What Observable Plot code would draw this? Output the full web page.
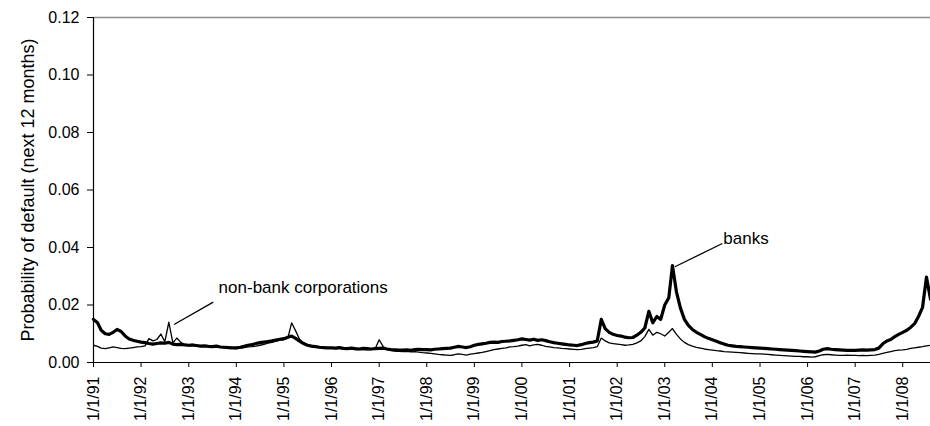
<!DOCTYPE html>
<html>
<head>
<meta charset="utf-8">
<script src="https://cdn.jsdelivr.net/npm/d3@7"></script>
<script src="https://cdn.jsdelivr.net/npm/@observablehq/plot@0.6"></script>
<style>
  body { margin: 0; background: #fff; }
  #chart svg { display: block; font-family: "Liberation Sans", Arial, sans-serif; }
  #chart g[aria-label="y-axis label"] text { font-size: 18px; }
</style>
</head>
<body>
<div id="chart"></div>
<script>
// monthly readings, Jan 1991 .. Aug 2008
const banks = [
  0.0150, 0.0138, 0.0112, 0.0100, 0.0098, 0.0105, 0.0115, 0.0108, 0.0092, 0.0082, 0.0077, 0.0074, // 1991
  0.0071, 0.0069, 0.0066, 0.0064, 0.0066, 0.0068, 0.0067, 0.0070, 0.0064, 0.0062, 0.0063, 0.0061, // 1992
  0.0060, 0.0061, 0.0059, 0.0057, 0.0058, 0.0056, 0.0055, 0.0057, 0.0054, 0.0053, 0.0052, 0.0051, // 1993
  0.0051, 0.0053, 0.0056, 0.0060, 0.0062, 0.0066, 0.0069, 0.0071, 0.0073, 0.0075, 0.0078, 0.0081, // 1994
  0.0083, 0.0088, 0.0092, 0.0084, 0.0074, 0.0066, 0.0060, 0.0057, 0.0055, 0.0053, 0.0052, 0.0051, // 1995
  0.0051, 0.0050, 0.0052, 0.0049, 0.0048, 0.0050, 0.0048, 0.0047, 0.0049, 0.0048, 0.0047, 0.0048, // 1996
  0.0049, 0.0050, 0.0047, 0.0045, 0.0044, 0.0043, 0.0043, 0.0044, 0.0042, 0.0045, 0.0046, 0.0045, // 1997
  0.0045, 0.0044, 0.0046, 0.0047, 0.0048, 0.0049, 0.0050, 0.0053, 0.0056, 0.0054, 0.0052, 0.0055, // 1998
  0.0060, 0.0063, 0.0065, 0.0067, 0.0070, 0.0071, 0.0070, 0.0073, 0.0074, 0.0075, 0.0077, 0.0079, // 1999
  0.0082, 0.0080, 0.0078, 0.0081, 0.0077, 0.0079, 0.0076, 0.0072, 0.0069, 0.0067, 0.0065, 0.0063, // 2000
  0.0061, 0.0060, 0.0059, 0.0062, 0.0066, 0.0069, 0.0071, 0.0075, 0.0150, 0.0118, 0.0105, 0.0098, // 2001
  0.0094, 0.0092, 0.0088, 0.0086, 0.0087, 0.0095, 0.0105, 0.0120, 0.0178, 0.0138, 0.0160, 0.0150, // 2002
  0.0200, 0.0225, 0.0337, 0.0245, 0.0190, 0.0150, 0.0129, 0.0115, 0.0105, 0.0098, 0.0090, 0.0084, // 2003
  0.0079, 0.0074, 0.0069, 0.0064, 0.0060, 0.0058, 0.0056, 0.0055, 0.0054, 0.0053, 0.0052, 0.0051, // 2004
  0.0050, 0.0049, 0.0048, 0.0047, 0.0046, 0.0045, 0.0044, 0.0043, 0.0042, 0.0041, 0.0040, 0.0039, // 2005
  0.0038, 0.0037, 0.0036, 0.0040, 0.0046, 0.0048, 0.0046, 0.0045, 0.0044, 0.0043, 0.0042, 0.0042, // 2006
  0.0042, 0.0043, 0.0044, 0.0043, 0.0044, 0.0045, 0.0050, 0.0065, 0.0075, 0.0080, 0.0090, 0.0098, // 2007
  0.0105, 0.0112, 0.0122, 0.0135, 0.0160, 0.0192, 0.0297, 0.0220                                  // 2008
];
const nonBank = [
  0.0060, 0.0056, 0.0050, 0.0048, 0.0051, 0.0054, 0.0052, 0.0049, 0.0048, 0.0050, 0.0052, 0.0054, // 1991
  0.0055, 0.0058, 0.0083, 0.0075, 0.0080, 0.0099, 0.0072, 0.0140, 0.0068, 0.0085, 0.0070, 0.0062, // 1992
  0.0058, 0.0060, 0.0057, 0.0059, 0.0056, 0.0055, 0.0057, 0.0054, 0.0053, 0.0051, 0.0050, 0.0049, // 1993
  0.0048, 0.0050, 0.0052, 0.0054, 0.0055, 0.0057, 0.0060, 0.0063, 0.0067, 0.0070, 0.0074, 0.0078, // 1994
  0.0079, 0.0086, 0.0138, 0.0110, 0.0081, 0.0068, 0.0060, 0.0056, 0.0054, 0.0052, 0.0051, 0.0050, // 1995
  0.0050, 0.0048, 0.0049, 0.0047, 0.0046, 0.0047, 0.0045, 0.0046, 0.0045, 0.0044, 0.0045, 0.0048, // 1996
  0.0079, 0.0055, 0.0046, 0.0042, 0.0040, 0.0039, 0.0038, 0.0039, 0.0037, 0.0038, 0.0036, 0.0034, // 1997
  0.0033, 0.0032, 0.0030, 0.0028, 0.0027, 0.0026, 0.0025, 0.0027, 0.0030, 0.0028, 0.0026, 0.0029, // 1998
  0.0031, 0.0033, 0.0035, 0.0038, 0.0041, 0.0045, 0.0047, 0.0049, 0.0051, 0.0054, 0.0055, 0.0057, // 1999
  0.0060, 0.0062, 0.0058, 0.0061, 0.0063, 0.0060, 0.0056, 0.0054, 0.0052, 0.0051, 0.0049, 0.0048, // 2000
  0.0047, 0.0046, 0.0045, 0.0046, 0.0048, 0.0050, 0.0052, 0.0055, 0.0085, 0.0075, 0.0068, 0.0066, // 2001
  0.0064, 0.0062, 0.0060, 0.0061, 0.0063, 0.0068, 0.0075, 0.0090, 0.0115, 0.0095, 0.0105, 0.0100, // 2002
  0.0092, 0.0105, 0.0118, 0.0098, 0.0082, 0.0070, 0.0062, 0.0057, 0.0053, 0.0050, 0.0047, 0.0045, // 2003
  0.0043, 0.0041, 0.0040, 0.0038, 0.0037, 0.0036, 0.0035, 0.0034, 0.0033, 0.0032, 0.0031, 0.0030, // 2004
  0.0030, 0.0029, 0.0028, 0.0027, 0.0026, 0.0025, 0.0024, 0.0023, 0.0022, 0.0021, 0.0021, 0.0020, // 2005
  0.0020, 0.0019, 0.0020, 0.0024, 0.0027, 0.0028, 0.0027, 0.0026, 0.0025, 0.0025, 0.0026, 0.0025, // 2006
  0.0025, 0.0024, 0.0025, 0.0024, 0.0025, 0.0026, 0.0028, 0.0032, 0.0035, 0.0038, 0.0041, 0.0043, // 2007
  0.0044, 0.0046, 0.0049, 0.0051, 0.0053, 0.0055, 0.0058, 0.0060                                  // 2008
];

const tickLabels = ["1/1/91", "1/1/92", "1/1/93", "1/1/94", "1/1/95", "1/1/96", "1/1/97", "1/1/98", "1/1/99",
  "1/1/00", "1/1/01", "1/1/02", "1/1/03", "1/1/04", "1/1/05", "1/1/06", "1/1/07", "1/1/08"];
const yTicks = [0, 0.02, 0.04, 0.06, 0.08, 0.10, 0.12];

// annotation: label position and the two ends of its leader line
const labels = [
  {text: "banks", date: "2004-03-25", value: 0.0431, fromDate: "2004-03-18", fromValue: 0.0414, toDate: "2003-03-20", toValue: 0.0333},
  {text: "non-bank corporations", date: "1993-08-18", value: 0.0261, fromDate: "1993-07-08", fromValue: 0.0210, toDate: "1992-09-10", toValue: 0.0132}
];

const start = new Date(Date.UTC(1991, 0, 1));
const months = d3.utcMonth.range(start, new Date(Date.UTC(2008, 8, 1)));
const bankData = months.map((d, i) => ({date: d, value: banks[i]}));
const nonBankData = months.map((d, i) => ({date: d, value: nonBank[i]}));
const tickDates = tickLabels.map((t, i) => new Date(Date.UTC(1991 + i, 0, 1)));
const labelData = labels.map(d => ({
  ...d, date: new Date(d.date), fromDate: new Date(d.fromDate), toDate: new Date(d.toDate)
}));

function createChart() {
  const chart = Plot.plot({
    width: 930,
    height: 426,
    marginLeft: 93,
    marginRight: 0,
    marginTop: 17,
    marginBottom: 64,
    style: {fontFamily: "Liberation Sans, Arial, sans-serif", background: "#fff"},
    x: {type: "utc", domain: [start, months[months.length - 1]]},
    y: {domain: [0, 0.12]},
    marks: [
      Plot.ruleY([0.12], {stroke: "#8c8c8c", strokeWidth: 1.3}),
      Plot.axisY({
        ticks: yTicks, tickFormat: d3.format(".2f"), tickSize: 6, tickPadding: 8, fontSize: 16,
        stroke: "#000", strokeOpacity: 1, color: "#000",
        label: "Probability of default (next 12 months)", labelAnchor: "center", labelArrow: "none", labelOffset: 72
      }),
      Plot.axisX({
        ticks: tickDates, tickFormat: (d, i) => tickLabels[i], tickRotate: -90, tickSize: 5, tickPadding: 9,
        fontSize: 16, stroke: "#000", strokeOpacity: 1, color: "#000", label: null
      }),
      Plot.ruleX([start], {stroke: "#000", strokeWidth: 1.2}),
      Plot.ruleY([0], {stroke: "#000", strokeWidth: 1.2}),
      Plot.lineY(bankData, {x: "date", y: "value", stroke: "#000", strokeWidth: 3.2, strokeLinejoin: "round"}),
      Plot.lineY(nonBankData, {x: "date", y: "value", stroke: "#000", strokeWidth: 1.3}),
      Plot.link(labelData, {x1: "fromDate", y1: "fromValue", x2: "toDate", y2: "toValue", stroke: "#000", strokeWidth: 1.3}),
      Plot.text(labelData, {x: "date", y: "value", text: "text", textAnchor: "start", fontSize: 17, fill: "#000"})
    ]
  });
  d3.select("#chart").append(() => chart);
}

createChart();
</script>
</body>
</html>
